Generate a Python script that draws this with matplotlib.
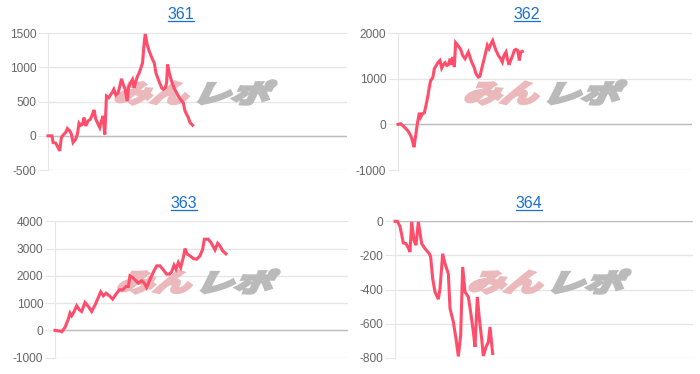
import matplotlib

matplotlib.use("Agg")
import matplotlib.pyplot as plt
from matplotlib.font_manager import FontProperties
from matplotlib.lines import Line2D
from matplotlib.patches import PathPatch
from matplotlib.textpath import TextPath
from matplotlib.transforms import Affine2D

W, H, DPI = 700, 374, 100

# game count (x) and coin difference (y) per machine
games_361 = [0, 120, 150, 230, 300, 350, 400, 450, 530, 580,
             650, 700, 750, 830, 880, 930, 980, 1030, 1080, 1130,
             1200, 1270, 1330, 1380, 1430, 1500, 1550, 1600, 1650, 1700,
             1750, 1820, 1880, 1930, 1970, 2030, 2100, 2150, 2200, 2250,
             2310, 2370, 2410, 2470, 2530, 2580, 2630, 2680, 2730, 2780,
             2830, 2870, 2910, 2970, 3030, 3090, 3130, 3180, 3230, 3300,
             3350, 3400, 3450, 3510, 3550, 3580, 3630, 3700, 3770, 3850,
             3930, 4000, 4050, 4100, 4150, 4200, 4250, 4330]
diff_361 = [0, 0, -97, -107, -170, -220, -25, 10, 50, 107,
            73, 25, -97, -48, 25, 185, 155, 170, 267, 145,
            218, 243, 315, 378, 243, 170, 121, 218, 291, 20,
            582, 558, 606, 640, 680, 597, 630, 728, 834, 752,
            680, 510, 703, 776, 825, 703, 800, 873, 921, 994,
            1067, 1310, 1490, 1333, 1237, 1164, 1115, 1067, 921, 825,
            766, 703, 680, 703, 776, 1043, 921, 800, 703, 630,
            558, 510, 485, 364, 315, 267, 194, 155]

games_362 = [0, 80, 160, 240, 310, 380, 430, 480, 530, 580,
             640, 680, 730, 790, 840, 890, 940, 980, 1040, 1090,
             1160, 1210, 1260, 1310, 1360, 1410, 1460, 1510, 1560, 1610,
             1640, 1690, 1730, 1810, 1880, 1940, 2010, 2060, 2110, 2160,
             2210, 2280, 2340, 2410, 2460, 2510, 2560, 2610, 2680, 2730,
             2790, 2840, 2880, 2940, 3010, 3080, 3130, 3180, 3240, 3280,
             3330, 3380, 3440, 3490, 3540, 3590, 3640, 3680, 3730]
diff_362 = [0, 15, -37, -95, -154, -242, -351, -500, -242, 15,
            256, 161, 234, 256, 417, 600, 820, 966, 1017, 1222,
            1310, 1369, 1405, 1237, 1310, 1354, 1295, 1310, 1442, 1310,
            1478, 1259, 1793, 1720, 1647, 1515, 1442, 1515, 1588, 1478,
            1369, 1259, 1112, 1039, 1061, 1222, 1369, 1515, 1735, 1662,
            1771, 1840, 1749, 1625, 1515, 1442, 1369, 1515, 1588, 1442,
            1310, 1405, 1515, 1625, 1647, 1625, 1405, 1588, 1603]

games_363 = [0, 150, 200, 300, 400, 450, 500, 570, 650, 730,
             800, 900, 1000, 1100, 1200, 1300, 1370, 1450, 1530, 1630,
             1730, 1830, 1930, 2030, 2130, 2200, 2250, 2330, 2430, 2500,
             2600, 2680, 2750, 2830, 2900, 2970, 3050, 3150, 3250, 3350,
             3430, 3500, 3570, 3630, 3700, 3770, 3850, 3900, 3970, 4050,
             4150, 4250, 4350, 4430, 4480, 4600, 4680, 4800, 4880, 4950,
             5030, 5130]
diff_363 = [0, -24, -49, 110, 415, 635, 537, 683, 903, 756,
            695, 1025, 878, 695, 927, 1208, 1415, 1269, 1366, 1269,
            1147, 1330, 1488, 1488, 1610, 1610, 2001, 1940, 1818, 1732,
            1818, 1732, 1574, 1818, 2001, 2184, 2367, 2367, 2220, 2062,
            2062, 2147, 2391, 2245, 2489, 2306, 2672, 3001, 2794, 2733,
            2635, 2611, 2733, 2977, 3343, 3343, 3220, 2952, 3196, 3098,
            2916, 2806]

games_364 = [0, 70, 150, 250, 330, 400, 450, 500, 570, 630,
             700, 800, 900, 1030, 1070, 1130, 1200, 1300, 1350, 1430,
             1500, 1600, 1650, 1750, 1830, 1900, 1970, 2030, 2100, 2200,
             2270, 2350, 2400, 2470, 2530, 2600, 2650, 2730, 2800, 2850,
             2930]
diff_364 = [0, 0, -30, -127, -131, -156, -180, -4, -112, -140,
            -4, -131, -160, -190, -209, -336, -414, -457, -395, -190,
            -248, -307, -512, -590, -688, -792, -669, -268, -414, -444,
            -532, -649, -737, -444, -571, -688, -790, -737, -708, -620,
            -776]

titles = ["361", "362", "363", "364"]
yticks = [[-500, 0, 500, 1000, 1500],
          [-1000, 0, 1000, 2000],
          [-1000, 0, 1000, 2000, 3000, 4000],
          [-800, -600, -400, -200, 0]]
xmax = [8950, 8820, 8790, 8940]

LINE = "#ff4d6b"
GRID = "#e6e6e6"
ZERO = "#bdbdbd"
TITLE = "#1a6fd6"
PINK = "#ebb9bb"
GRAY = "#bababa"

plt.rcParams["font.family"] = ["Liberation Sans", "DejaVu Sans"]
plt.rcParams["axes.unicode_minus"] = False

fig = plt.figure(figsize=(W / DPI, H / DPI), dpi=DPI)
pix = Affine2D().scale(1 / DPI) + fig.dpi_scale_trans

# axes boxes in pixels: left, top, right, bottom
boxes = [(48, 33.3, 347, 170), (398, 33.3, 692, 170),
         (55, 221.3, 348, 357.7), (395, 221.3, 693, 357.7)]
title_pos = [(181, 19.3), (527, 19.3), (184, 208), (529, 208)]
# watermark: left edge, bottom edge (pixels)
logo_pos = [(116, 104), (466, 104), (119, 293), (470, 293)]


def add_logo(ax, left, bottom):
    prop = FontProperties(family="Noto Sans CJK JP", weight="bold")
    x = left
    for txt, col, width in (("みん", PINK, 72), ("レポ", GRAY, 77)):
        tp = TextPath((0, 0), txt, size=25, prop=prop)
        path = Affine2D().skew_deg(18, 0).transform_path(tp)
        ext = path.get_extents()
        sx = width / ext.width
        path = Affine2D().translate(-ext.x0, -ext.y0).scale(sx, 1.0) \
            .translate(x, H - bottom).transform_path(path)
        patch = PathPatch(path, facecolor=col, edgecolor=col, lw=2.4,
                          joinstyle="miter", transform=pix, zorder=1.8)
        patch.set_clip_on(False)
        ax.add_artist(patch)
        x += width + 11


series = [(games_361, diff_361), (games_362, diff_362),
          (games_363, diff_363), (games_364, diff_364)]

texts = []
for i, (gx, dy) in enumerate(series):
    l, t, r, b = boxes[i]
    ax = fig.add_axes([l / W, (H - b) / H, (r - l) / W, (b - t) / H])
    ax.plot(gx, dy, color=LINE, lw=2.2, solid_joinstyle="miter", zorder=3, clip_on=False)
    ax.set_xlim(0, xmax[i])
    ax.set_ylim(yticks[i][0], yticks[i][-1])
    ax.set_yticks(yticks[i])
    ax.set_xticks([])
    ax.grid(axis="y", color=GRID, lw=1)
    ax.axhline(0, color=ZERO, lw=1, zorder=1.6)
    for s in ("top", "right", "bottom"):
        ax.spines[s].set_visible(False)
    ax.spines["left"].set_color(GRID)
    ax.tick_params(axis="y", length=7.5, width=0.8, color=GRID, pad=1,
                   labelsize=8.6, labelcolor="#666666")
    add_logo(ax, *logo_pos[i])

    tx, ty = title_pos[i]
    texts.append(fig.text(tx / W, 1 - ty / H, titles[i], ha="center", va="baseline",
                          fontsize=11.5, color=TITLE))

# underline the titles like links
fig.canvas.draw()
renderer = fig.canvas.get_renderer()
for t, (tx, ty) in zip(texts, title_pos):
    bb = t.get_window_extent(renderer)
    y = (H - ty - 1.8) / H
    fig.add_artist(Line2D([bb.x0 / W, bb.x1 / W], [y, y], color=TITLE, lw=0.9,
                          transform=fig.transFigure))

fig.savefig("out.png", dpi=DPI)
